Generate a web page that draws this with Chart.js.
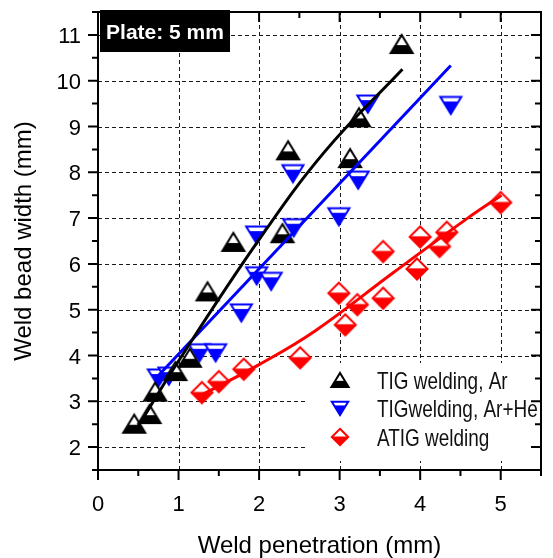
<!DOCTYPE html>
<html><head><meta charset="utf-8">
<script src="https://cdn.jsdelivr.net/npm/chart.js@4/dist/chart.umd.min.js"></script>
<style>html,body{margin:0;padding:0;background:#fff;}#wrap{width:553px;height:558px;}</style>
</head><body><div id="wrap"><canvas id="c" width="553" height="558"></canvas></div>
<script>
// ---- data ----
const xTickLabels = [0, 1, 2, 3, 4, 5];
const yTickLabels = [2, 3, 4, 5, 6, 7, 8, 9, 10, 11];
const seriesNames = ['TIG welding, Ar', 'TIGwelding, Ar+He', 'ATIG welding'];
const plateLabel = 'Plate: 5 mm';
const xTitle = 'Weld penetration (mm)';
const yTitle = 'Weld bead width (mm)';

const arX = [0.45, 0.64, 0.71, 0.96, 1.14, 1.36, 1.68, 2.29, 2.36, 3.13, 3.24, 3.77];
const arY = [2.51, 2.72, 3.21, 3.66, 3.95, 5.40, 6.48, 6.67, 8.48, 8.31, 9.20, 10.80];

const heX = [0.75, 0.88, 1.26, 1.46, 1.78, 1.97, 1.97, 2.15, 2.43, 2.42, 2.99, 3.23, 3.35, 4.38];
const heY = [3.51, 3.55, 4.06, 4.06, 4.93, 6.63, 5.74, 5.62, 6.79, 7.97, 7.03, 7.83, 9.49, 9.46];

const atigX = [1.29, 1.50, 1.81, 2.51, 2.99, 3.07, 3.22, 3.54, 3.54, 3.96, 4.00, 4.24, 4.33, 5.00];
const atigY = [3.19, 3.43, 3.70, 3.95, 5.36, 4.67, 5.11, 5.25, 6.27, 5.89, 6.59, 6.38, 6.69, 7.34];

// fitted curves, read as points along the drawn lines
const arFitX = [0.45, 1.00, 1.98, 2.81, 3.78];
const arFitY = [2.32, 3.88, 6.48, 8.44, 10.25];
const heFitX = [0.70, 4.38];
const heFitY = [3.47, 10.33];
const atigFitX = [1.30, 2.00, 2.69, 3.66, 4.59, 5.01];
const atigFitY = [3.15, 3.80, 4.53, 5.80, 7.00, 7.50];

const xMin = 0, xMax = 5.5, yMin = 1.5, yMax = 11.5;
const BLACK = '#000000', BLUE = '#0000ff', RED = '#ff0000';
const FONT = '"Liberation Sans", Arial, Helvetica, sans-serif';

const pts = (xs, ys) => xs.map((x, i) => ({x: x, y: ys[i]}));

// ---- half-filled marker images ----
function markerPath(ctx, kind, cx, cy, w, h) {
  ctx.beginPath();
  if (kind === 'up') {
    ctx.moveTo(cx - w/2, cy + h/2); ctx.lineTo(cx, cy - h/2); ctx.lineTo(cx + w/2, cy + h/2);
  } else if (kind === 'down') {
    ctx.moveTo(cx - w/2, cy - h/2); ctx.lineTo(cx + w/2, cy - h/2); ctx.lineTo(cx, cy + h/2);
  } else {
    ctx.moveTo(cx, cy - h/2); ctx.lineTo(cx + w/2, cy); ctx.lineTo(cx, cy + h/2); ctx.lineTo(cx - w/2, cy);
  }
  ctx.closePath();
}
function drawMarker(ctx, kind, color, cx, cy, s) {
  const dims = {up: [22, 18, 0.56], down: [21, 17, 0.27], diamond: [21, 21, 0.47]}[kind];
  const w = dims[0]*s, h = dims[1]*s, f = dims[2];
  ctx.save();
  markerPath(ctx, kind, cx, cy, w, h);
  ctx.fillStyle = '#ffffff'; ctx.fill();
  ctx.save(); ctx.clip();
  ctx.fillStyle = color;
  ctx.fillRect(cx - w, cy - h/2 + h*f, 2*w, h);
  ctx.restore();
  markerPath(ctx, kind, cx, cy, w, h);
  ctx.lineWidth = 2; ctx.strokeStyle = color; ctx.lineJoin = 'miter';
  ctx.stroke();
  ctx.restore();
}
function makeMarker(kind, color, s) {
  const c = document.createElement('canvas');
  c.width = 32; c.height = 32;
  drawMarker(c.getContext('2d'), kind, color, 16, 16, s);
  return c;
}
const mkUp = makeMarker('up', BLACK, 1), mkDown = makeMarker('down', BLUE, 1), mkDia = makeMarker('diamond', RED, 1);

// ---- decoration plugin ----
const deco = {
  id: 'deco',
  beforeDatasetsDraw(chart) {
    const {ctx, chartArea: a, scales: {x, y}} = chart;
    ctx.save();
    ctx.strokeStyle = '#1a1a1a'; ctx.lineWidth = 1; ctx.setLineDash([4, 3]);
    xTickLabels.forEach(v => {
      if (v <= xMin) return;
      const px = Math.round(x.getPixelForValue(v)) + 0.5;
      ctx.beginPath(); ctx.moveTo(px, a.bottom); ctx.lineTo(px, a.top); ctx.stroke();
    });
    yTickLabels.forEach(v => {
      const py = Math.round(y.getPixelForValue(v)) + 0.5;
      ctx.beginPath(); ctx.moveTo(a.left, py); ctx.lineTo(a.right, py); ctx.stroke();
    });
    ctx.setLineDash([]);
    // legend background
    ctx.fillStyle = '#ffffff';
    ctx.fillRect(307, 363, a.right - 307, 98);
    ctx.restore();
  },
  afterDatasetsDraw(chart) {
    const {ctx, chartArea: a, scales: {x, y}} = chart;
    ctx.save();
    // frame
    ctx.strokeStyle = '#000'; ctx.lineWidth = 2;
    ctx.strokeRect(a.left, a.top, a.right - a.left, a.bottom - a.top);
    // ticks
    ctx.beginPath();
    for (let v = xMin; v <= xMax + 1e-9; v += 0.5) {
      const major = Math.abs(v - Math.round(v)) < 1e-9;
      const L = major ? 10 : 6;
      const px = x.getPixelForValue(v);
      ctx.moveTo(px, a.bottom); ctx.lineTo(px, a.bottom + L);
      ctx.moveTo(px, a.top); ctx.lineTo(px, a.top + L);
    }
    for (let v = yMin; v <= yMax + 1e-9; v += 0.5) {
      const major = Math.abs(v - Math.round(v)) < 1e-9;
      const L = major ? 10 : 6;
      const py = y.getPixelForValue(v);
      ctx.moveTo(a.left, py); ctx.lineTo(a.left - L, py);
      ctx.moveTo(a.right, py); ctx.lineTo(a.right - L, py);
    }
    ctx.stroke();
    // plate label
    ctx.fillStyle = '#000';
    ctx.fillRect(100, 10, 130, 42);
    ctx.fillStyle = '#fff';
    ctx.font = 'bold 21px ' + FONT;
    ctx.textAlign = 'center'; ctx.textBaseline = 'alphabetic';
    ctx.fillText(plateLabel, 165, 39);
    // legend
    const kinds = [['up', BLACK], ['down', BLUE], ['diamond', RED]];
    const ly = [380, 408.5, 437];
    ctx.font = '24px ' + FONT;
    ctx.textAlign = 'left';
    kinds.forEach((k, i) => {
      drawMarker(ctx, k[0], k[1], 340, ly[i], 0.78);
      ctx.save(); ctx.translate(377, ly[i] + 8.5); ctx.scale(0.79, 1);
      ctx.fillStyle = '#111';
      ctx.fillText(seriesNames[i], 0, 0); ctx.restore();
    });
    ctx.restore();
  },
  afterDraw(chart) {
    const {ctx, chartArea: a, scales: {x, y}} = chart;
    ctx.save();
    ctx.fillStyle = '#000';
    ctx.font = '22px ' + FONT;
    ctx.textAlign = 'center'; ctx.textBaseline = 'alphabetic';
    xTickLabels.forEach(v => ctx.fillText(String(v), x.getPixelForValue(v), 511));
    ctx.textAlign = 'right';
    yTickLabels.forEach(v => ctx.fillText(String(v), 81, y.getPixelForValue(v) + 8));
    ctx.font = '24px ' + FONT;
    ctx.textAlign = 'center';
    ctx.fillText(xTitle, (a.left + a.right)/2, 553);
    ctx.save();
    ctx.translate(31, (a.top + a.bottom)/2); ctx.rotate(-Math.PI/2);
    ctx.fillText(yTitle, 0, 0);
    ctx.restore();
    ctx.restore();
  }
};

const lineDs = (xs, ys, color) => ({
  type: 'line', data: pts(xs, ys), borderColor: color, borderWidth: 3,
  pointRadius: 0, fill: false, tension: 0.4, order: 1
});
const scatDs = (xs, ys, img, label) => ({
  type: 'scatter', label: label, data: pts(xs, ys), pointStyle: img,
  pointRadius: 11, order: 2
});

new Chart(document.getElementById('c'), {
  data: {
    datasets: [
      lineDs(arFitX, arFitY, BLACK),
      lineDs(heFitX, heFitY, BLUE),
      lineDs(atigFitX, atigFitY, RED),
      scatDs(arX, arY, mkUp, seriesNames[0]),
      scatDs(heX, heY, mkDown, seriesNames[1]),
      scatDs(atigX, atigY, mkDia, seriesNames[2])
    ]
  },
  options: {
    responsive: false, animation: false, events: [],
    layout: {padding: {left: 98, right: 1, top: 9, bottom: 88}},
    plugins: {legend: {display: false}, tooltip: {enabled: false}},
    scales: {
      x: {type: 'linear', min: xMin, max: xMax, display: false},
      y: {type: 'linear', min: yMin, max: yMax, display: false}
    }
  },
  plugins: [deco]
});
</script></body></html>
